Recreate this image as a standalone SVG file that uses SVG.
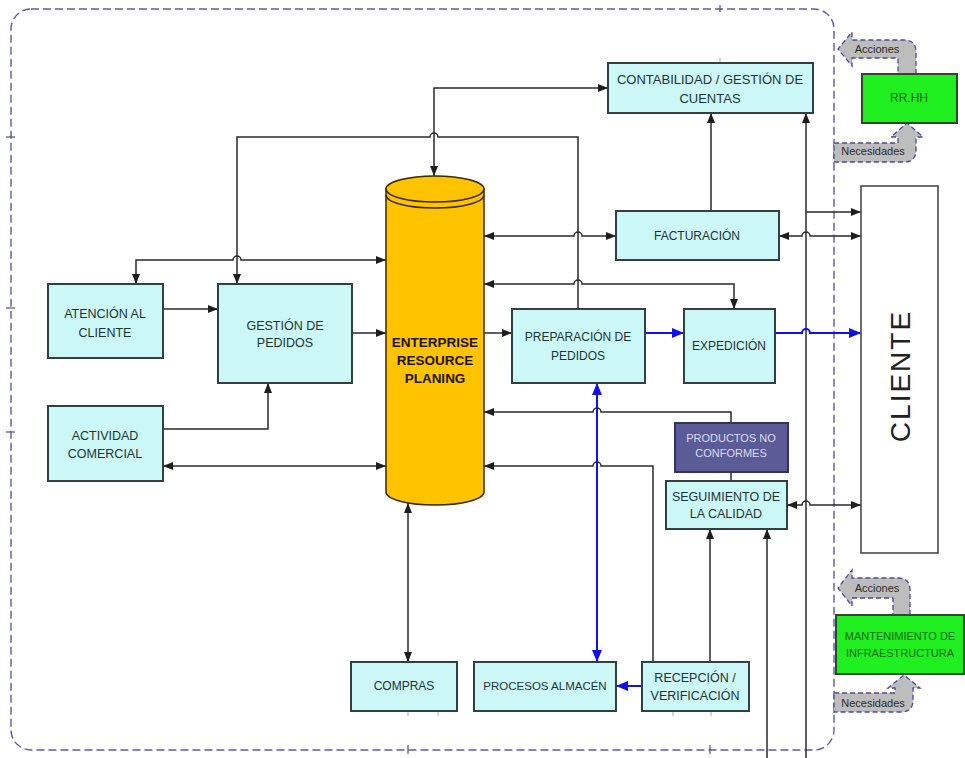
<svg xmlns="http://www.w3.org/2000/svg" width="965" height="758" viewBox="0 0 965 758">
  <defs>
    <marker id="ah" viewBox="0 0 10 8" refX="10" refY="4" markerWidth="10" markerHeight="8" markerUnits="userSpaceOnUse" orient="auto-start-reverse">
      <path d="M0,0 L10,4 L0,8 z" fill="#1e1e1e"/>
    </marker>
    <marker id="ahb" viewBox="0 0 12 10" refX="12" refY="5" markerWidth="12" markerHeight="10" markerUnits="userSpaceOnUse" orient="auto-start-reverse">
      <path d="M0,0 L12,5 L0,10 z" fill="#1010e8"/>
    </marker>
  </defs>
  <style>
    .frame { fill: none; stroke: #5c5ca0; stroke-width: 1.4; stroke-dasharray: 8 4; }
    .tick { stroke: #555; stroke-width: 1.2; }
    .tick2 { stroke: #aaa; stroke-width: 1; }
    .box { fill: #ccf7f7; stroke: #34403f; stroke-width: 2; }
    .nc { fill: #5b5b98; stroke: #34345a; stroke-width: 2; }
    .green { fill: #1fee1f; stroke: #2a4a2a; stroke-width: 2; }
    .client { fill: #ffffff; stroke: #4a4a4a; stroke-width: 1.6; }
    .band { fill: #bdbdbd; stroke: #4a4aa0; stroke-width: 1.3; stroke-dasharray: 5 3; }
    .t { font-family: "Liberation Sans", Arial, sans-serif; font-size: 12.5px; fill: #1d3434; text-anchor: middle; }
    .tl { fill: #dcdcf2; font-size: 11px; }
    .tg { fill: #1c6a1c; font-size: 11px; }
    .tb { font-family: "Liberation Sans", Arial, sans-serif; font-size: 11px; fill: #2a2a2a; text-anchor: middle; }
    .erp { font-family: "Liberation Sans", Arial, sans-serif; font-size: 13.5px; font-weight: bold; fill: #1c1400; text-anchor: middle; }
    .big { font-family: "Liberation Sans", Arial, sans-serif; font-size: 28px; fill: #222; text-anchor: middle; letter-spacing: 2px; }
    .ln { fill: none; stroke: #2a2a2a; stroke-width: 1.5; }
    .bl { fill: none; stroke: #1010e8; stroke-width: 2; }
  </style>

  <!-- process boundary -->
  <g id="boundary">
    <rect class="frame" x="11" y="9" width="823" height="741" rx="20" ry="20"/>
    <line class="tick" x1="6" y1="137" x2="15" y2="137"/>
    <line class="tick" x1="6" y1="308" x2="15" y2="308"/>
    <line class="tick" x1="6" y1="432" x2="15" y2="432"/>
    <line class="tick" x1="720" y1="5" x2="720" y2="12"/>
    <line class="tick2" x1="720" y1="58" x2="720" y2="63"/>
    <line class="tick" x1="408" y1="745" x2="408" y2="754"/>
    <line class="tick" x1="710" y1="745" x2="710" y2="754"/>
    <line class="tick2" x1="408" y1="712" x2="408" y2="716"/>
    <line class="tick2" x1="438" y1="712" x2="438" y2="716"/>
    <line class="tick2" x1="673" y1="712" x2="673" y2="716"/>
    <line class="tick2" x1="711" y1="712" x2="711" y2="716"/>
  </g>

  <!-- connectors -->
  <g id="connectors">
    <path class="ln" d="M434,176 L434,88 L608,88" marker-start="url(#ah)" marker-end="url(#ah)"/>
    <path class="ln" d="M578,309 L578,137 L438,137 A4,4 0 0 0 430,137 L237,137 L237,284" marker-end="url(#ah)"/>
    <path class="ln" d="M386,260 L241,260 A4,4 0 0 0 233,260 L136,260 L136,284" marker-start="url(#ah)" marker-end="url(#ah)"/>
    <path class="ln" d="M163,309 L218,309" marker-end="url(#ah)"/>
    <path class="ln" d="M352,333 L386,333" marker-end="url(#ah)"/>
    <path class="ln" d="M163,429 L268,429 L268,383" marker-end="url(#ah)"/>
    <path class="ln" d="M163,466 L386,466" marker-start="url(#ah)" marker-end="url(#ah)"/>
    <path class="ln" d="M408,503 L408,662" marker-start="url(#ah)" marker-end="url(#ah)"/>
    <path class="ln" d="M484,236 L574,236 A4,4 0 0 1 582,236 L616,236" marker-start="url(#ah)" marker-end="url(#ah)"/>
    <path class="ln" d="M711,211 L711,113" marker-end="url(#ah)"/>
    <path class="ln" d="M734,309 L734,284 L582,284 A4,4 0 0 0 574,284 L484,284" marker-start="url(#ah)" marker-end="url(#ah)"/>
    <path class="ln" d="M484,333 L512,333" marker-end="url(#ah)"/>
    <path class="ln" d="M731,423 L731,412 L601,412 A4,4 0 0 0 593,412 L484,412" marker-end="url(#ah)"/>
    <path class="ln" d="M653,662 L653,466 L601,466 A4,4 0 0 0 593,466 L484,466" marker-end="url(#ah)"/>
    <path class="ln" d="M710,662 L710,529" marker-end="url(#ah)"/>
    <path class="ln" d="M767,758 L767,529" marker-end="url(#ah)"/>
    <path class="ln" d="M806,758 L806,113" marker-end="url(#ah)"/>
    <path class="ln" d="M806,212 L861,212" marker-end="url(#ah)"/>
    <path class="ln" d="M779,236 L802,236 A4,4 0 0 1 810,236 L861,236" marker-start="url(#ah)" marker-end="url(#ah)"/>
    <path class="ln" d="M787,505 L802,505 A4,4 0 0 1 810,505 L861,505" marker-start="url(#ah)" marker-end="url(#ah)"/>
    <path class="ln" d="M731,472 L731,481"/>
    <path class="bl" d="M645,333 L684,333" marker-end="url(#ahb)"/>
    <path class="bl" d="M775,333 L802,333 A4,4 0 0 1 810,333 L861,333" marker-end="url(#ahb)"/>
    <path class="bl" d="M597,383 L597,662" marker-start="url(#ahb)" marker-end="url(#ahb)"/>
    <path class="bl" d="M642,686 L616,686" marker-end="url(#ahb)"/>
  </g>

  <g id="erp">
    <path d="M386,189 L386,492 A49,13 0 0 0 484,492 L484,189 Z" fill="#ffc300" stroke="#3a2a00" stroke-width="1.5"/>
    <ellipse cx="435" cy="189" rx="49" ry="13" fill="#ffc300" stroke="#3a2a00" stroke-width="1.5"/>
    <path d="M386,195 A49,13 0 0 0 484,195" fill="none" stroke="#3a2a00" stroke-width="1.5"/>
    <text class="erp" x="435" y="347">ENTERPRISE</text>
    <text class="erp" x="435" y="365">RESOURCE</text>
    <text class="erp" x="435" y="383">PLANING</text>
  </g>

  <g id="contabilidad">
    <rect class="box" x="608" y="63" width="205" height="50"/>
    <text class="t" x="710" y="84" style="font-size:13px">CONTABILIDAD / GESTIÓN DE</text>
    <text class="t" x="710" y="103" style="font-size:13px">CUENTAS</text>
  </g>

  <g id="facturacion">
    <rect class="box" x="616" y="211" width="163" height="49"/>
    <text class="t" x="697" y="240" style="font-size:12px">FACTURACIÓN</text>
  </g>

  <g id="atencion">
    <rect class="box" x="48" y="284" width="115" height="74"/>
    <text class="t" x="105" y="318">ATENCIÓN AL</text>
    <text class="t" x="105" y="337">CLIENTE</text>
  </g>

  <g id="gestion-pedidos">
    <rect class="box" x="218" y="284" width="134" height="99"/>
    <text class="t" x="285" y="330">GESTIÓN DE</text>
    <text class="t" x="285" y="347">PEDIDOS</text>
  </g>

  <g id="actividad">
    <rect class="box" x="48" y="406" width="115" height="75"/>
    <text class="t" x="105" y="440">ACTIVIDAD</text>
    <text class="t" x="105" y="458">COMERCIAL</text>
  </g>

  <g id="preparacion">
    <rect class="box" x="512" y="309" width="133" height="74"/>
    <text class="t" x="578" y="341" style="font-size:12px">PREPARACIÓN DE</text>
    <text class="t" x="578" y="360" style="font-size:12px">PEDIDOS</text>
  </g>

  <g id="expedicion">
    <rect class="box" x="684" y="309" width="91" height="74"/>
    <text class="t" x="729" y="350" style="font-size:12px">EXPEDICIÓN</text>
  </g>

  <g id="no-conformes">
    <rect class="nc" x="675" y="423" width="113" height="49"/>
    <text class="t tl" x="731" y="442">PRODUCTOS NO</text>
    <text class="t tl" x="731" y="457">CONFORMES</text>
  </g>

  <g id="seguimiento">
    <rect class="box" x="666" y="481" width="121" height="48"/>
    <text class="t" x="726" y="501">SEGUIMIENTO DE</text>
    <text class="t" x="726" y="518">LA CALIDAD</text>
  </g>

  <g id="compras">
    <rect class="box" x="351" y="662" width="106" height="49"/>
    <text class="t" x="404" y="690" style="font-size:12px">COMPRAS</text>
  </g>

  <g id="almacen">
    <rect class="box" x="474" y="662" width="142" height="49"/>
    <text class="t" x="545" y="690" style="font-size:11.5px">PROCESOS ALMACÉN</text>
  </g>

  <g id="recepcion">
    <rect class="box" x="642" y="662" width="107" height="49"/>
    <text class="t" x="695" y="682">RECEPCIÓN /</text>
    <text class="t" x="695" y="700">VERIFICACIÓN</text>
  </g>

  <g id="cliente">
    <rect class="client" x="861" y="186" width="77" height="367"/>
    <text class="big" transform="translate(910,376) rotate(-90)">CLIENTE</text>
  </g>

  <g id="rrhh">
    <path class="band" d="M916,74 L916,52 Q916,40 904,40 L852,40 L852,32 L838,49 L852,66 L852,58 L898,58 L898,74 Z"/>
    <text class="tb" x="877" y="53">Acciones</text>
    <path class="band" d="M834,143 L898,143 L898,137 L891,137 L907,123 L923,137 L916,137 L916,150 Q916,162 904,162 L834,162 Z"/>
    <text class="tb" x="873" y="155">Necesidades</text>
    <rect class="green" x="862" y="74" width="95" height="49"/>
    <text class="t tg" x="909" y="102" style="font-size:12px">RR.HH</text>
  </g>

  <g id="mantenimiento">
    <path class="band" d="M910,615 L910,590 Q910,578 898,578 L852,578 L852,570 L838,588 L852,606 L852,598 L893,598 L893,615 Z"/>
    <text class="tb" x="877" y="592">Acciones</text>
    <path class="band" d="M834,693 L895,693 L895,688 L888,688 L904,675 L920,688 L913,688 L913,700 Q913,712 901,712 L834,712 Z"/>
    <text class="tb" x="873" y="707">Necesidades</text>
    <rect class="green" x="836" y="615" width="128" height="59"/>
    <text class="t tg" x="900" y="640">MANTENIMIENTO DE</text>
    <text class="t tg" x="900" y="657">INFRAESTRUCTURA</text>
  </g>
</svg>
